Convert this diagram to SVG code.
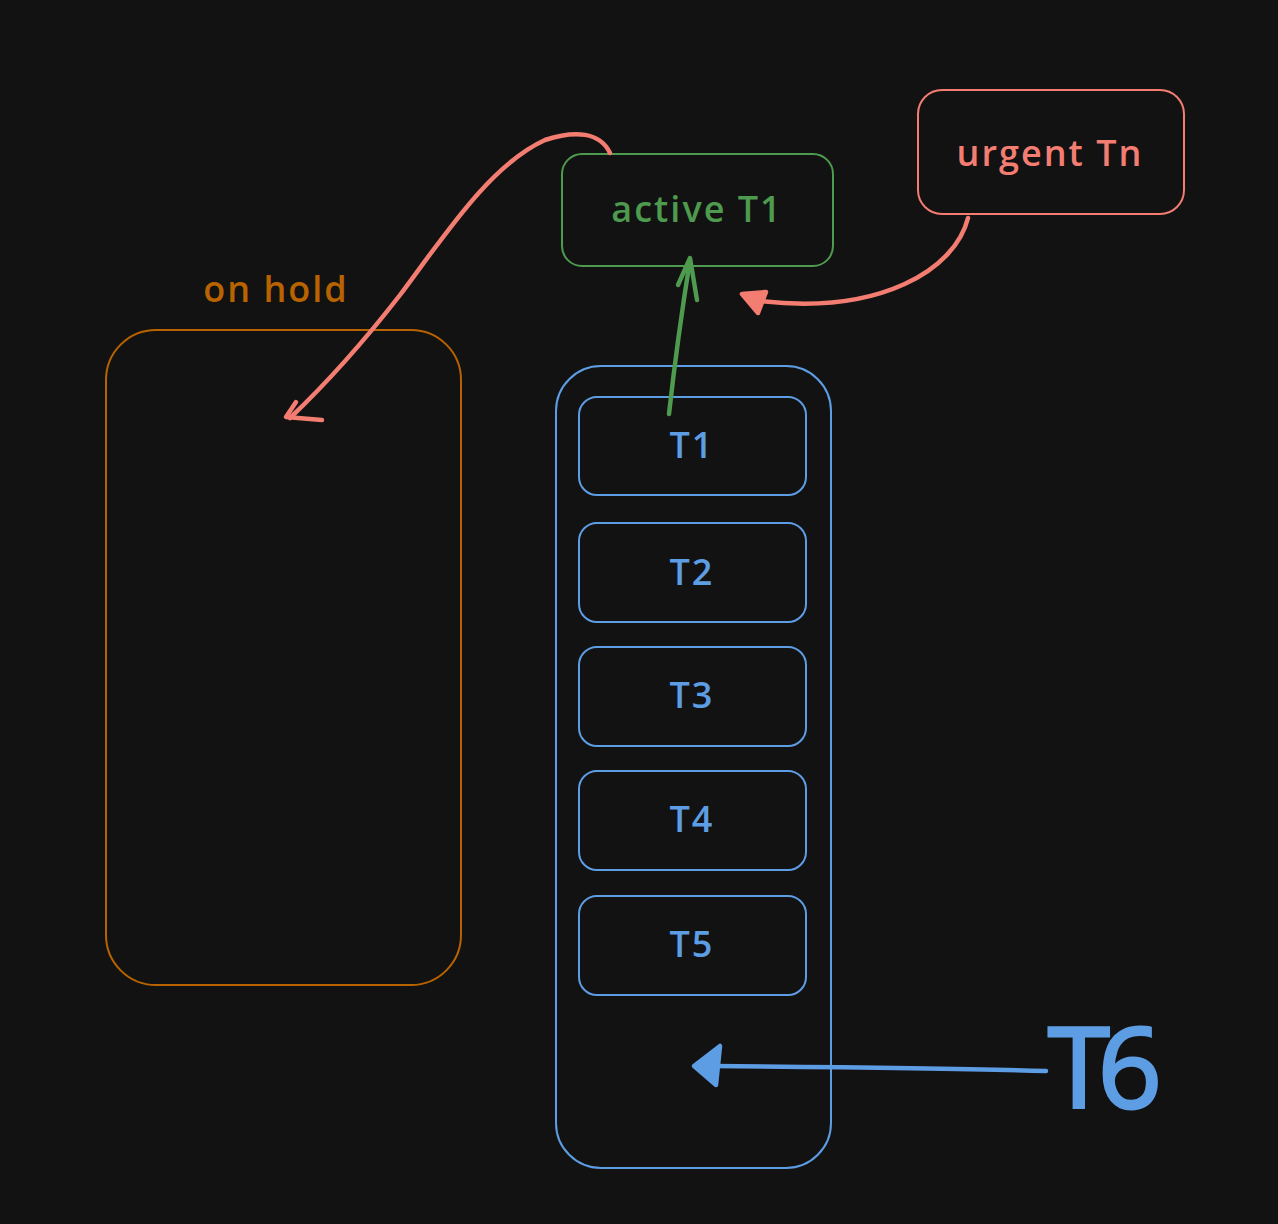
<svg xmlns="http://www.w3.org/2000/svg" width="1278" height="1224" viewBox="0 0 1278 1224">
<style>
.bx{fill:none;stroke-width:2}
.blue{stroke:#5d9de3}
.t{font-family:"Open Sans","Liberation Sans",sans-serif;font-size:36px;font-weight:600;letter-spacing:2px;text-anchor:middle;dominant-baseline:central}
.line{fill:none;stroke-width:4.5;stroke-linecap:round;stroke-linejoin:round}
.head{stroke-width:4.5;stroke-linecap:round;stroke-linejoin:round}
</style>
<rect width="1278" height="1224" fill="#121212"/>
<g id="on-hold">
<text class="t" x="276" y="288" fill="#b86300">on hold</text>
<rect class="bx" x="106" y="330" width="355" height="655" rx="50" stroke="#b86300"/>
</g>
<g id="active">
<rect class="bx" x="562" y="154" width="271" height="112" rx="20" stroke="#4e9a4e"/>
<text class="t" x="697" y="208" fill="#4e9a4e">active T1</text>
</g>
<g id="urgent">
<rect class="bx" x="918" y="90" width="266" height="124" rx="24" stroke="#f47d72"/>
<text class="t" x="1050" y="152" fill="#f47d72">urgent Tn</text>
</g>
<g id="queue">
<rect class="bx blue" x="556" y="366" width="275" height="802" rx="45"/>
</g>
<g id="t1"><rect class="bx blue" x="579" y="397" width="227" height="98" rx="18"/><text class="t" x="692" y="444" fill="#5d9de3">T1</text></g>
<g id="t2"><rect class="bx blue" x="579" y="523" width="227" height="99" rx="18"/><text class="t" x="692" y="571" fill="#5d9de3">T2</text></g>
<g id="t3"><rect class="bx blue" x="579" y="647" width="227" height="99" rx="18"/><text class="t" x="692" y="694" fill="#5d9de3">T3</text></g>
<g id="t4"><rect class="bx blue" x="579" y="771" width="227" height="99" rx="18"/><text class="t" x="692" y="818" fill="#5d9de3">T4</text></g>
<g id="t5"><rect class="bx blue" x="579" y="896" width="227" height="99" rx="18"/><text class="t" x="692" y="943" fill="#5d9de3">T5</text></g>
<g id="t6">
<text x="1048" y="1108" font-family="Open Sans, Liberation Sans, sans-serif" font-size="112" fill="#5d9de3" stroke="#5d9de3" stroke-width="3" letter-spacing="-12">T6</text>
</g>
<g id="connectors">
<path class="line" stroke="#4e9a4e" d="M669,414 C675,360 682,310 690,260"/>
<path class="line" stroke="#4e9a4e" d="M678,285 L690,258 L697,300"/>
<path class="line" stroke="#f47d72" d="M968,218 C955,270 880,315 760,301"/>
<path class="head" stroke="#f47d72" fill="#f47d72" d="M742,294 L766,292 L758,313 Z"/>
<path class="line" stroke="#f47d72" d="M610,153 C600,132 575,130 545,140 C490,165 445,235 400,295 C365,340 330,380 290,418"/>
<path class="line" stroke="#f47d72" d="M296,402 L286,417 L322,420"/>
<path class="line" stroke="#5d9de3" d="M1046,1071 C950,1068 820,1067 700,1066"/>
<path class="head" stroke="#5d9de3" fill="#5d9de3" d="M694,1066 L720,1046 L716,1085 Z"/>
</g>
</svg>
